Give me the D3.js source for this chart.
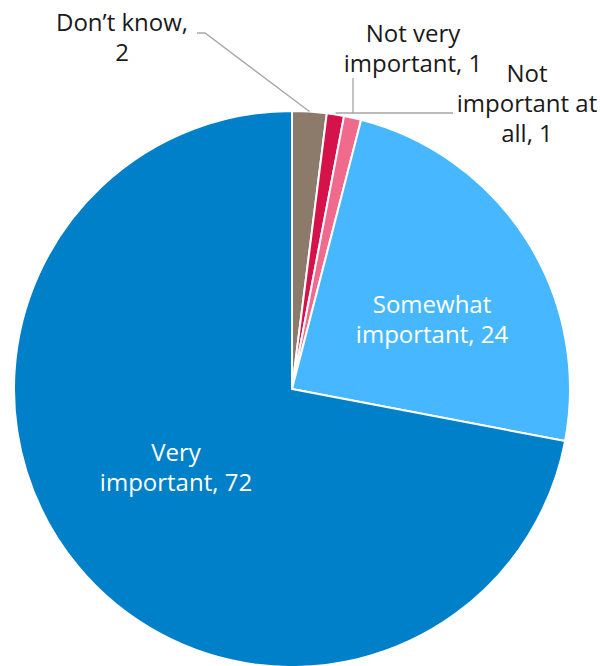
<!DOCTYPE html>
<html><head><meta charset="utf-8">
<script src="https://cdn.jsdelivr.net/npm/d3@7/dist/d3.min.js"></script>
<style>body{margin:0;background:#fff;} svg text{font-family:"Open Sans","Noto Sans",sans-serif;}</style>
</head><body>
<svg id="c" width="600" height="666"></svg>
<script>
const categories = ["Don\u2019t know", "Not very important", "Not important at all", "Somewhat important", "Very important"];
const values = [2, 1, 1, 24, 72];
const colors = ["#8C7B6B", "#D6124A", "#F06A8E", "#47B8FF", "#0080C8"];
const labelLines = [["Don\u2019t know,", "2"], ["Not very", "important, 1"], ["Not", "important at", "all, 1"], ["Somewhat", "important, 24"], ["Very", "important, 72"]];

const cx = 292, cy = 389, R = 278;
const svg = d3.select("#c");
const g = svg.append("g").attr("transform", `translate(${cx},${cy})`);
const data = categories.map((c, i) => ({c, v: values[i], i}));
const pie = d3.pie().value(d => d.v).sort(null);
const arcs = pie(data);
const arc = d3.arc().innerRadius(0).outerRadius(R);

g.selectAll("path").data(arcs).enter().append("path")
  .attr("d", arc).attr("fill", d => colors[d.data.i])
  .attr("stroke", "#fff").attr("stroke-width", 2).attr("stroke-linejoin", "round");

function outerPt(a, r) { const ang = (a.startAngle + a.endAngle) / 2; return [Math.sin(ang) * r, -Math.cos(ang) * r]; }

const lead = g.append("g").attr("fill", "none").attr("stroke", "#A6A6A6").attr("stroke-width", 1.3);
{ const p = outerPt(arcs[0], R); lead.append("polyline").attr("points", [[p[0], p[1]], [205 - cx, 33 - cy], [197 - cx, 33 - cy]].join(" ")); }
{ const p = outerPt(arcs[1], R); lead.append("polyline").attr("points", [[p[0], 113 - cy], [353 - cx, 113 - cy], [353 - cx, 78 - cy]].join(" ")); }
{ const p = outerPt(arcs[2], R); lead.append("polyline").attr("points", [[p[0], 113 - cy], [453 - cx, 113 - cy]].join(" ")); }

const labelPos = [
  {x: 122, y: 31, fill: "#1a1a1a"},
  {x: 413, y: 42, fill: "#1a1a1a"},
  {x: 527, y: 82, fill: "#1a1a1a"},
  {x: 432, y: 313, fill: "#fff"},
  {x: 176, y: 461, fill: "#fff"}
];
labelLines.forEach((lines, i) => {
  const t = svg.append("text").attr("text-anchor", "middle").attr("font-size", 24).attr("fill", labelPos[i].fill);
  lines.forEach((l, j) => t.append("tspan").attr("x", labelPos[i].x).attr("y", labelPos[i].y + j * 30).text(l));
});
</script>
</body></html>
